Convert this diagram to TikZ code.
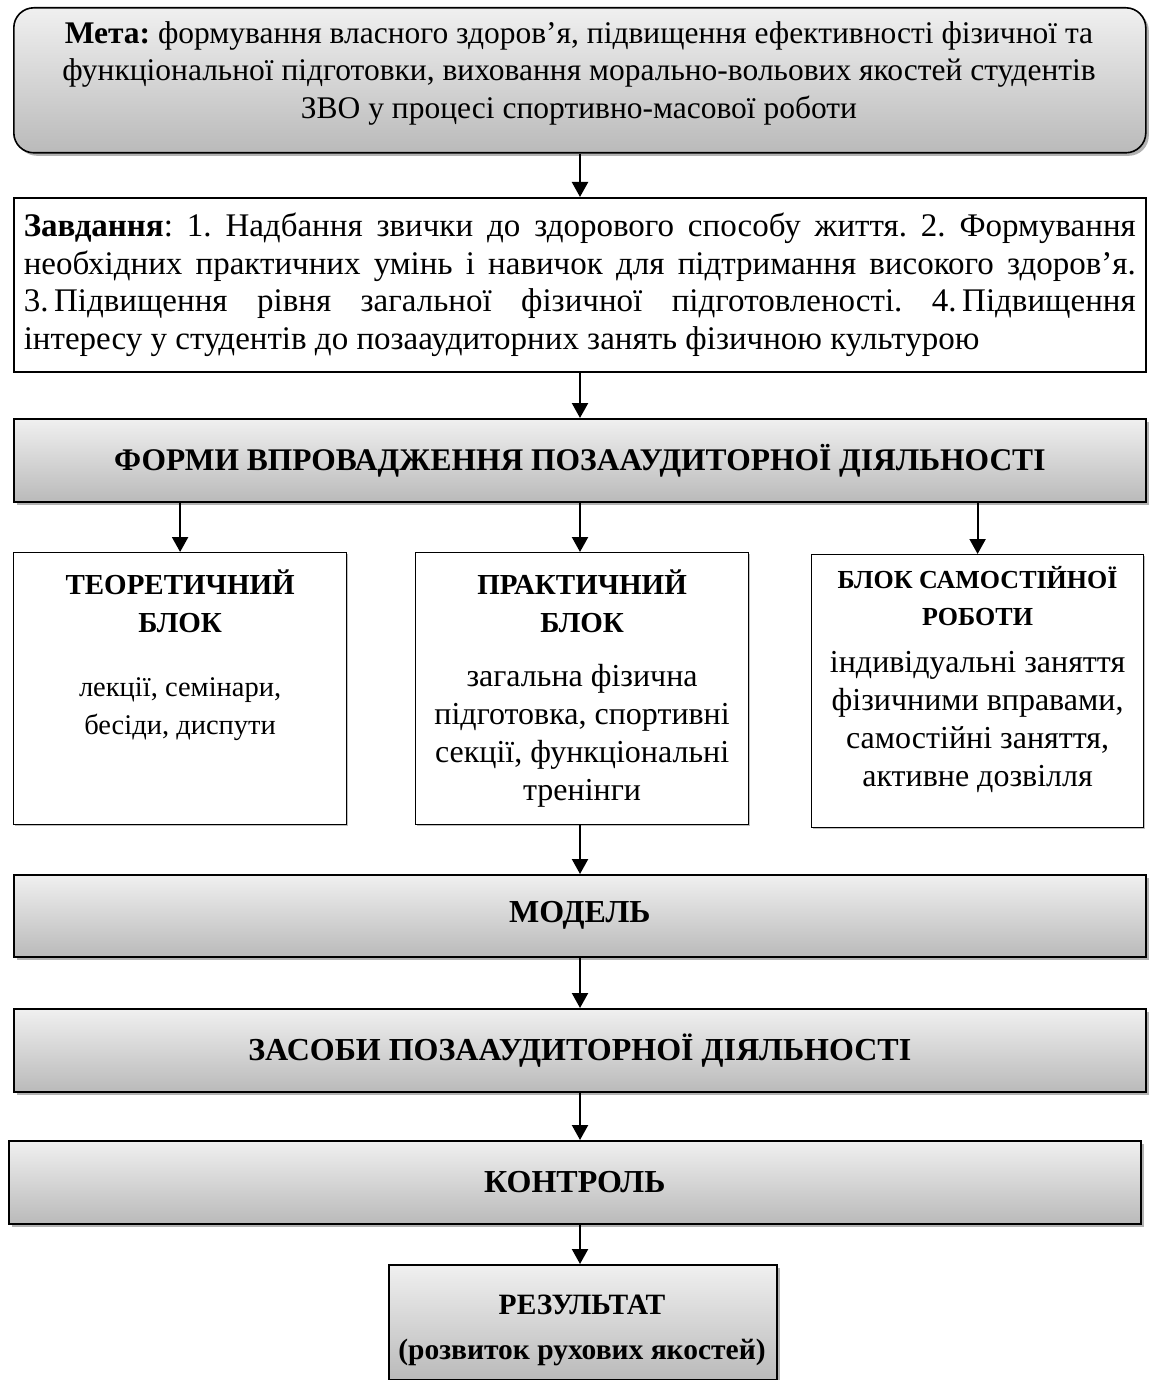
\documentclass[tikz,border=0pt]{standalone}
\usepackage{fontspec}
\setmainfont{Liberation Serif}
\usetikzlibrary{shadows,arrows.meta,calc}
\definecolor{gtop}{RGB}{240,240,240}
\definecolor{gbot}{RGB}{186,186,186}
\frenchspacing
\tikzset{
  graybox/.style={draw=black, line width=1.6pt, top color=gtop, bottom color=gbot,
    drop shadow={shadow xshift=3pt, shadow yshift=-3pt, opacity=0.3, fill=black},
    inner sep=0pt, align=center, font=\bfseries\fontsize{32}{38}\selectfont},
  whitebox/.style={draw=black, line width=1.2pt, fill=white, inner sep=0pt,
    drop shadow={shadow xshift=1.5pt, shadow yshift=-1.5pt, opacity=0.25, fill=black}},
  txt/.style={align=center, inner sep=0pt, font=\fontsize{32}{38}\selectfont},
  ttl/.style={align=center, inner sep=0pt, font=\bfseries\fontsize{29}{38}\selectfont},
  arr/.style={-{Triangle[width=16pt,length=15pt]}, line width=2.2pt}
}
\begin{document}
\begin{tikzpicture}[x=1pt,y=-1pt]
\useasboundingbox (0,0) rectangle (1148,1380);
% Meta
\node[graybox, rounded corners=20pt, anchor=north west, minimum width=1132pt, minimum height=145pt] (meta) at (13,7) {};
\node[txt, font=\fontsize{31.5}{37.5}\selectfont] (metatext) at (579,73)
  {\textbf{Мета:} формування власного здоров’я, підвищення ефективності фізичної та\\
   функціональної підготовки, виховання морально-вольових якостей студентів\\
   ЗВО у процесі спортивно-масової роботи};
% Завдання
\node[draw=black, line width=1.6pt, fill=white, anchor=north west, minimum width=1132pt, minimum height=174pt,
  text width=1112pt, inner xsep=10pt, inner ysep=0pt, align=justify, font=\fontsize{33}{37.4}\selectfont] (tasks) at (13,197)
  {\textbf{Завдання}: 1. Надбання звички до здорового способу життя. 2. Формування\linebreak
   необхідних практичних умінь і навичок для підтримання високого здоров’я.\linebreak
   3.\,Підвищення рівня загальної фізичної підготовленості. 4.\,Підвищення\linebreak
   інтересу у студентів до позааудиторних занять фізичною культурою};
% Форми
\node[graybox, anchor=north west, minimum width=1132pt, minimum height=83pt, font=\bfseries\fontsize{31.5}{38}\selectfont] (forms) at (13,418)
  {ФОРМИ ВПРОВАДЖЕННЯ ПОЗААУДИТОРНОЇ ДІЯЛЬНОСТІ};
% three blocks
\node[whitebox, anchor=north west, minimum width=333pt, minimum height=272pt] (b1) at (13,552) {};
\node[whitebox, anchor=north west, minimum width=333pt, minimum height=272pt] (b2) at (415,552) {};
\node[whitebox, anchor=north west, minimum width=332pt, minimum height=273pt] (b3) at (811,554) {};
\node[ttl] (t1) at ($(b1.north)+(0,49)$) {ТЕОРЕТИЧНИЙ\\БЛОК};
\node[txt, font=\fontsize{28.5}{38}\selectfont] (d1) at ($(b1.north)+(0,157)$) {лекції, семінари,\\бесіди, диспути};
\node[ttl] (t2) at ($(b2.north)+(0,49)$) {ПРАКТИЧНИЙ\\БЛОК};
\node[txt] (d2) at ($(b2.north)+(0,184)$) {загальна фізична\\підготовка, спортивні\\секції, функціональні\\тренінги};
\node[ttl, font=\bfseries\fontsize{26}{37}\selectfont] (t3) at ($(b3.north)+(0,42)$) {БЛОК САМОСТІЙНОЇ\\РОБОТИ};
\node[txt] (d3) at ($(b3.north)+(0,168)$) {індивідуальні заняття\\фізичними вправами,\\самостійні заняття,\\активне дозвілля};
% Модель etc.
\node[graybox, anchor=north west, minimum width=1132pt, minimum height=82pt] (model) at (13,874) {МОДЕЛЬ};
\node[graybox, anchor=north west, minimum width=1132pt, minimum height=83pt] (means) at (13,1008) {ЗАСОБИ ПОЗААУДИТОРНОЇ ДІЯЛЬНОСТІ};
\node[graybox, anchor=north west, minimum width=1132pt, minimum height=83pt] (control) at (8,1140) {КОНТРОЛЬ};
\node[graybox, anchor=north west, minimum width=388pt, minimum height=115pt] (result) at (388,1264) {};
\node[ttl, font=\bfseries\fontsize{29.5}{45}\selectfont] (restext) at (582,1330)
  {РЕЗУЛЬТАТ\\(розвиток рухових якостей)};
% arrows
\draw[arr] (meta.south -| 580,0) -- (tasks.north -| 580,0);
\draw[arr] (tasks.south -| 580,0) -- (forms.north -| 580,0);
\draw[arr] (forms.south -| b1.north) -- (b1.north);
\draw[arr] (forms.south -| 580,0) -- (b2.north -| 580,0);
\draw[arr] (forms.south -| b3.north) -- (b3.north);
\draw[arr] (b2.south -| 580,0) -- (model.north -| 580,0);
\draw[arr] (model.south -| 580,0) -- (means.north -| 580,0);
\draw[arr] (means.south -| 580,0) -- (control.north -| 580,0);
\draw[arr] (control.south -| 580,0) -- (result.north -| 580,0);
\end{tikzpicture}
\end{document}
